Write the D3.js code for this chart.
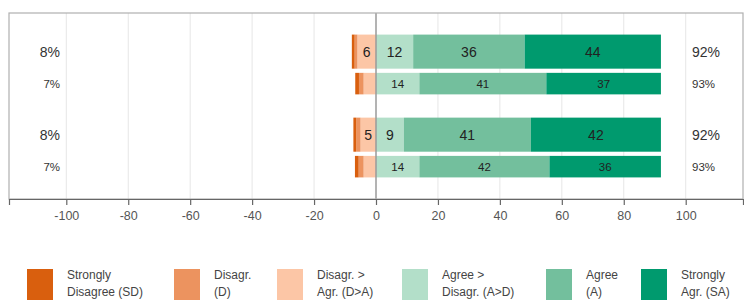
<!DOCTYPE html>
<html>
<head>
<meta charset="utf-8">
<script src="https://cdn.jsdelivr.net/npm/d3@7"></script>
<style>
  body { margin: 0; background: #fff; }
  svg { font-family: "Liberation Sans", Arial, sans-serif; display: block; }
</style>
</head>
<body>
<script>
// Data
const rowIds = ["g1-main", "g1-sub", "g2-main", "g2-sub"];
const rowGroup = ["g1", "g1", "g2", "g2"];
const rowKind = ["main", "sub", "main", "sub"];
const sdVals = [0.9, 1.2, 0.9, 1.2];
const dVals = [0.9, 1.5, 1.4, 1.6];
const daVals = [6, 4, 5, 4];
const adVals = [12, 14, 9, 14];
const aVals = [36, 41, 41, 42];
const saVals = [44, 37, 42, 36];
const negLabels = ["8%", "7%", "8%", "7%"];
const posLabels = ["92%", "93%", "92%", "93%"];
const xTicks = [-100, -80, -60, -40, -20, 0, 20, 40, 60, 80, 100];

const keys = ["DA", "D", "SD", "AD", "A", "SA"];
const colors = {SD: "#d95f0e", D: "#ec935f", DA: "#fcc6a6", AD: "#b3dfc9", A: "#73bf9d", SA: "#009a6e"};
const legendItems = [
  {key: "SD", l1: "Strongly", l2: "Disagree (SD)"},
  {key: "D", l1: "Disagr.", l2: "(D)"},
  {key: "DA", l1: "Disagr. >", l2: "Agr. (D>A)"},
  {key: "AD", l1: "Agree >", l2: "Disagr. (A>D)"},
  {key: "A", l1: "Agree", l2: "(A)"},
  {key: "SA", l1: "Strongly", l2: "Agr. (SA)"}
];

const rows = rowIds.map((id, i) => ({
  id: id, group: rowGroup[i], kind: rowKind[i],
  SD: -sdVals[i], D: -dVals[i], DA: -daVals[i],
  AD: adVals[i], A: aVals[i], SA: saVals[i],
  neg: negLabels[i], pos: posLabels[i]
}));

const W = 744, H = 300;
const panel = {left: 9, right: 743, top: 13, bottom: 199};

var svg = d3.select("body").append("svg")
    .attr("width", W)
    .attr("height", H);

var x = d3.scaleLinear().domain([-118.5, 118.5]).range([panel.left, panel.right]);
var yGroup = d3.scaleBand().domain(["g1", "g2"])
    .range([panel.top, panel.bottom])
    .paddingInner(0.28).paddingOuter(0.26);

// sub-position inside a group band
function rowY(d) {
  var b = yGroup.bandwidth();
  return yGroup(d.group) + (d.kind == "main" ? 0 : 0.64 * b);
}
function rowH(d) {
  var b = yGroup.bandwidth();
  return d.kind == "main" ? 0.57 * b : 0.36 * b;
}

// Gridlines
svg.append("g").selectAll("line").data(xTicks.filter(t => t != 0))
  .enter().append("line")
    .attr("x1", d => x(d)).attr("x2", d => x(d))
    .attr("y1", panel.top).attr("y2", panel.bottom)
    .attr("stroke", "#e6e6e6").attr("stroke-width", 1);

// Stacked bars
var stack = d3.stack().keys(keys).offset(d3.stackOffsetDiverging);
var series = stack(rows);

var layers = svg.append("g").selectAll("g").data(series)
  .enter().append("g")
    .attr("fill", s => colors[s.key]);

layers.selectAll("rect").data(s => s.map(p => ({p: p, key: s.key, row: p.data})))
  .enter().append("rect")
    .attr("x", d => x(Math.min(d.p[0], d.p[1])))
    .attr("width", d => Math.abs(x(d.p[1]) - x(d.p[0])))
    .attr("y", d => rowY(d.row))
    .attr("height", d => rowH(d.row));

// Segment labels
layers.selectAll("text").data(s => s.map(p => ({p: p, key: s.key, row: p.data}))
    .filter(d => Math.abs(d.p[1] - d.p[0]) >= 5))
  .enter().append("text")
    .attr("x", d => x((d.p[0] + d.p[1]) / 2))
    .attr("y", d => rowY(d.row) + rowH(d.row) / 2)
    .attr("dy", "0.36em")
    .attr("text-anchor", "middle")
    .attr("fill", "#222")
    .attr("font-size", d => d.row.kind == "main" ? 14 : 11.5)
    .text(d => Math.round(Math.abs(d.p[1] - d.p[0])));

// Zero line
svg.append("line")
    .attr("x1", x(0)).attr("x2", x(0))
    .attr("y1", panel.top).attr("y2", panel.bottom)
    .attr("stroke", "#9a9a9a").attr("stroke-width", 1.5);

// Side labels
svg.append("g").selectAll("text").data(rows)
  .enter().append("text")
    .attr("x", 60)
    .attr("y", d => rowY(d) + rowH(d) / 2)
    .attr("dy", "0.36em")
    .attr("text-anchor", "end")
    .attr("fill", "#333")
    .attr("font-size", d => d.kind == "main" ? 14 : 11.5)
    .text(d => d.neg);

svg.append("g").selectAll("text").data(rows)
  .enter().append("text")
    .attr("x", 692)
    .attr("y", d => rowY(d) + rowH(d) / 2)
    .attr("dy", "0.36em")
    .attr("fill", "#333")
    .attr("font-size", d => d.kind == "main" ? 14 : 11.5)
    .text(d => d.pos);

// Panel border
svg.append("rect")
    .attr("x", panel.left).attr("y", panel.top)
    .attr("width", panel.right - panel.left)
    .attr("height", panel.bottom - panel.top)
    .attr("fill", "none").attr("stroke", "#b0b0b0").attr("stroke-width", 1.2);

// X axis
var xAxis = d3.axisBottom(x).tickValues(xTicks).tickSize(6).tickPadding(6)
    .tickFormat(d => d < 0 ? "-" + Math.abs(d) : "" + d);
var ax = svg.append("g")
    .attr("transform", `translate(0,${panel.bottom})`)
    .call(xAxis);
ax.select(".domain").attr("stroke", "#666").attr("stroke-width", 1.2);
ax.selectAll(".tick line").attr("stroke", "#666").attr("stroke-width", 1.2);
ax.selectAll(".tick text").attr("fill", "#555").attr("font-size", 12.5)
    .attr("font-family", "Liberation Sans, Arial, sans-serif");

// Legend
var legendX = [27, 174, 277, 402, 546, 641];
var legend = svg.append("g").selectAll("g").data(legendItems)
  .enter().append("g")
    .attr("transform", (d, i) => `translate(${legendX[i]},269)`);

legend.append("rect")
    .attr("width", 26).attr("height", 31)
    .attr("fill", d => colors[d.key]);

legend.append("text")
    .attr("x", 40).attr("y", 10)
    .attr("fill", "#444").attr("font-size", 12)
    .text(d => d.l1);
legend.append("text")
    .attr("x", 40).attr("y", 27)
    .attr("fill", "#444").attr("font-size", 12)
    .text(d => d.l2);
</script>
</body>
</html>
